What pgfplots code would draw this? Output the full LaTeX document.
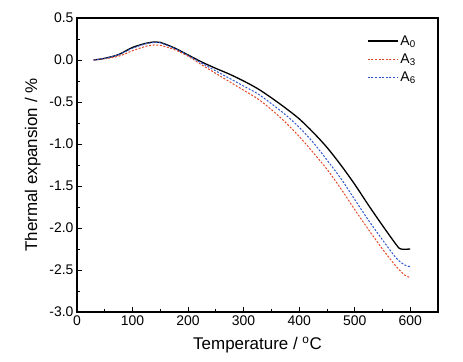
\documentclass[border=0pt]{standalone}
\usepackage{pgfplots}
\pgfplotsset{compat=1.18}
\usepackage{fontspec}
\setmainfont{Liberation Sans}
\definecolor{cred}{RGB}{228,72,40}
\definecolor{cblue}{RGB}{45,85,205}
\pgfplotstableread{
T v
30 0.00
50 0.02
75 0.065
100 0.15
125 0.20
140 0.215
150 0.21
175 0.145
200 0.06
225 -0.025
250 -0.10
275 -0.17
300 -0.25
325 -0.34
350 -0.45
375 -0.57
400 -0.70
425 -0.86
450 -1.04
475 -1.25
500 -1.48
525 -1.73
550 -1.97
575 -2.20
583 -2.25
600 -2.25
}\Azero
\pgfplotstableread{
T v
30 0.00
50 0.015
75 0.045
100 0.11
125 0.165
140 0.18
150 0.175
175 0.125
200 0.045
225 -0.06
250 -0.16
275 -0.26
300 -0.36
325 -0.46
350 -0.59
375 -0.74
400 -0.91
425 -1.10
450 -1.30
475 -1.53
500 -1.78
525 -2.02
550 -2.25
575 -2.46
590 -2.56
600 -2.59
}\Athree
\pgfplotstableread{
T v
30 0.00
50 0.02
75 0.065
100 0.14
125 0.195
140 0.21
150 0.205
175 0.14
200 0.055
225 -0.04
250 -0.13
275 -0.22
300 -0.31
325 -0.40
350 -0.52
375 -0.65
400 -0.80
425 -0.98
450 -1.19
475 -1.41
500 -1.66
525 -1.91
550 -2.14
575 -2.36
590 -2.44
600 -2.46
}\Asix
\begin{document}
\begin{tikzpicture}
\begin{axis}[
  scale only axis,
  width=361bp, height=294bp,
  xmin=0, xmax=650, ymin=-3, ymax=0.5,
  xtick={0,100,...,600},
  minor xtick={50,150,...,650},
  ytick={-3,-2.5,...,0.5},
  minor ytick={-2.75,-2.25,...,0.25},
  xtick pos=bottom, ytick pos=left,
  tick align=inside,
  major tick length=5bp, minor tick length=3bp,
  axis line style={line width=1.1pt},
  every tick/.style={black, line width=0.8pt},
  /pgf/number format/assume math mode=true,
  /pgf/number format/.cd, fixed, fixed zerofill, precision=1, /pgfplots/.cd,
  xticklabel style={/pgf/number format/precision=0, /pgf/number format/fixed zerofill=false},
  ticklabel style={font=\fontsize{14}{16}\selectfont},
  xlabel={Temperature / \textsuperscript{o}C},
  ylabel={Thermal expansion / \%},
  label style={font=\fontsize{17}{19}\selectfont},
  xlabel style={yshift=-5bp},
  ylabel style={yshift=2bp},
  legend style={at={(0.795,0.955)}, anchor=north west, draw=none, fill=none,
    font=\fontsize{14}{16}\selectfont, row sep=3bp},
  legend cell align=left,
  legend image code/.code={\draw[#1] (0bp,0bp) -- (30bp,0bp);},
]
\addplot[black, line width=1.3pt, smooth] table {\Azero};
\addlegendentry{A\textsubscript{0}}
\addplot[cred, line width=1pt, dash pattern=on 2bp off 1.6bp, smooth] table {\Athree};
\addlegendentry{A\textsubscript{3}}
\addplot[cblue, line width=1pt, dash pattern=on 2bp off 1.6bp, smooth] table {\Asix};
\addlegendentry{A\textsubscript{6}}
\end{axis}
\path ([shift={(-77bp,-50bp)}]current axis.south west) rectangle ([shift={(25bp,18bp)}]current axis.north east);
\end{tikzpicture}
\end{document}
